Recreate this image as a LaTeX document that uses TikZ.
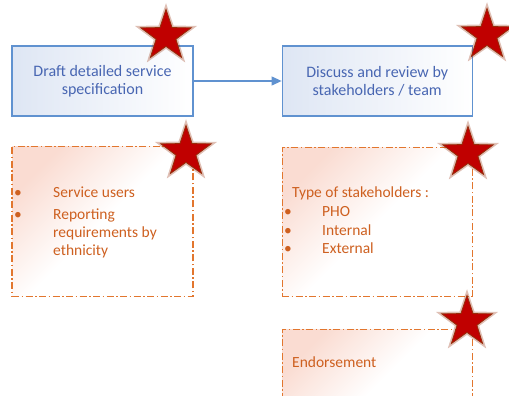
\documentclass[tikz,border=0pt]{standalone}
\usepackage{fontspec}
\setmainfont{Carlito}
\usetikzlibrary{positioning, shapes.geometric, arrows.meta}

\definecolor{stepblue}{RGB}{96,146,208}
\definecolor{steptext}{RGB}{72,102,178}
\definecolor{stepfill}{RGB}{222,230,244}
\definecolor{noteorange}{RGB}{226,118,46}
\definecolor{notetext}{RGB}{206,96,32}
\definecolor{notefill}{RGB}{250,220,210}
\definecolor{starred}{RGB}{192,0,0}
\definecolor{staredge}{RGB}{150,45,10}

\begin{document}
\begin{tikzpicture}[
    x=1pt, y=-1pt,
    node distance=29pt and 88pt,
    stepbox/.style={rectangle, draw=stepblue, line width=1.2pt, inner sep=0pt,
      minimum height=70pt, align=center, text=steptext,
      font=\fontsize{16}{18}\selectfont,
      left color=stepfill, right color=white},
    notebox/.style={rectangle, draw=noteorange, line width=1.3pt, inner sep=0pt,
      dash pattern=on 7pt off 2.5pt on 1.5pt off 2.5pt,
      top color=notefill, bottom color=white, middle color=white, shading angle=45},
    notetxt/.style={inner sep=0pt, anchor=base west, align=left, text=notetext,
      font=\fontsize{15.5}{18}\selectfont},
    redstar/.style={star, star points=5, star point ratio=2.55, minimum size=53pt,
      inner sep=0pt, fill=starred, draw=staredge, line width=0.8pt,
      preaction={draw=staredge, draw opacity=0.3, line width=4pt}},
    >={Triangle[length=10pt, width=9pt]}]

  \useasboundingbox (0,0) rectangle (509,396);
  \clip (0,0) rectangle (509,396);

  % Process steps
  \node (draft) [stepbox, minimum width=181pt] at (102.5,81) {Draft detailed service\\specification};
  \node (discuss) [stepbox, minimum width=190pt, right=88pt of draft] {Discuss and review by\\stakeholders / team};

  \draw [->, stepblue, line width=1.2pt] (draft) -- (discuss);

  % Notes under each step
  \node (users) [notebox, minimum width=181pt, minimum height=150pt, below=29pt of draft] {};
  \node (types) [notebox, minimum width=190pt, minimum height=149pt, below=30pt of discuss] {};
  \node (endorse) [notebox, minimum width=190pt, minimum height=110pt, below=32pt of types] {};

  \node (usersTxt) [notetxt] at (14,197) {%
    \begin{tabular}[t]{@{}p{39pt}@{}l@{}}
      \textbullet & Service users \\[4pt]
      \textbullet & Reporting \\
                  & requirements by \\
                  & ethnicity
    \end{tabular}};
  \node (typesTxt) [notetxt] at (284,197) {%
    \begin{tabular}[t]{@{}p{38pt}@{}l@{}}
      \multicolumn{2}{@{\hspace{8pt}}l@{}}{Type of stakeholders :} \\[1pt]
      \textbullet & PHO \\[1pt]
      \textbullet & Internal \\
      \textbullet & External
    \end{tabular}};
  \node (endorseTxt) [notetxt] at (292,367) {Endorsement};

  % Stars on the corners
  \node (star1) [redstar] at (166,36) {};
  \node (star2) [redstar] at (487,35) {};
  \node (star3) [redstar] at (186,152) {};
  \node (star4) [redstar] at (468,153) {};
  \node (star5) [redstar] at (467,322) {};
\end{tikzpicture}
\end{document}
